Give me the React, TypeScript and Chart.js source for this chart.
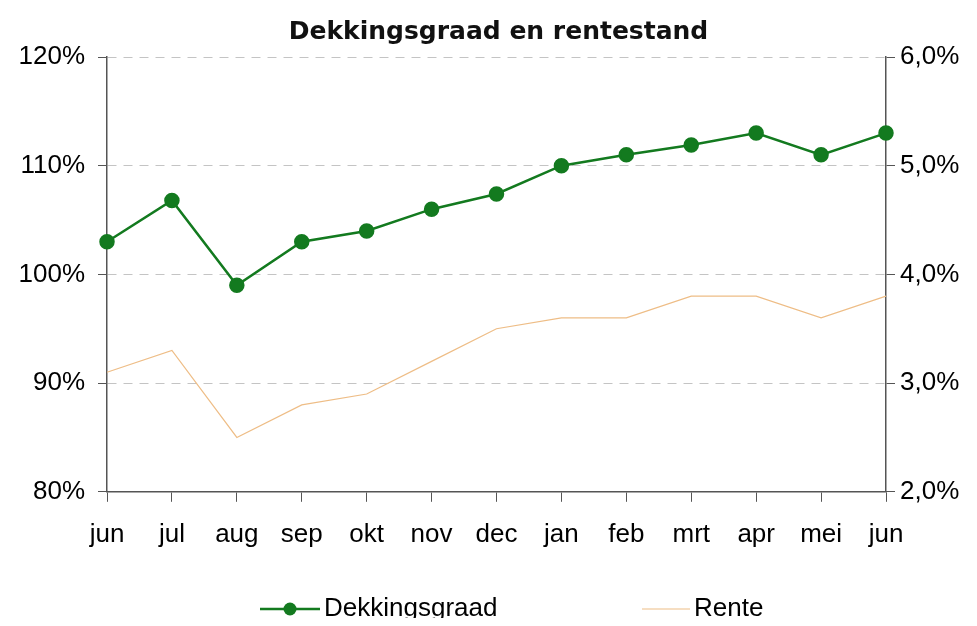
import React, { useEffect, useRef } from "react";
import { Chart, registerables } from "chart.js";

Chart.register(...registerables);

const months = ["jun", "jul", "aug", "sep", "okt", "nov", "dec", "jan", "feb", "mrt", "apr", "mei", "jun"];
const dekkingsgraad = [103, 106.8, 99, 103, 104, 106, 107.4, 110, 111, 111.9, 113, 111, 113];
const rente = [3.1, 3.3, 2.5, 2.8, 2.9, 3.2, 3.5, 3.6, 3.6, 3.8, 3.8, 3.6, 3.8];
const leftTicks = { min: 80, max: 120, step: 10 };
const rightTicks = { min: 2, max: 6, step: 1 };

const GREEN = "#137a1f";
const ORANGE = "#eebd86";
const AXIS = "#555555";
const FONT = "'Liberation Sans', Arial, sans-serif";

const legendPlugin = {
  id: "customLegend",
  afterDraw(chart: any) {
    const { ctx, chartArea } = chart;
    const y = chart.height - 9;
    const items = [
      { x: chartArea.left + 153, ds: chart.data.datasets[0] },
      { x: chartArea.left + 535, ds: chart.data.datasets[1] },
    ];
    ctx.save();
    items.forEach((it, i) => {
      const w = i === 0 ? 60 : 48;
      ctx.strokeStyle = it.ds.borderColor;
      ctx.lineWidth = it.ds.borderWidth;
      ctx.beginPath();
      ctx.moveTo(it.x, y);
      ctx.lineTo(it.x + w, y);
      ctx.stroke();
      if (it.ds.pointRadius > 0) {
        ctx.fillStyle = it.ds.pointBackgroundColor;
        ctx.beginPath();
        ctx.arc(it.x + w / 2, y, it.ds.pointRadius, 0, Math.PI * 2);
        ctx.fill();
      }
      ctx.fillStyle = "#000";
      ctx.font = `26px ${FONT}`;
      ctx.textBaseline = "middle";
      ctx.textAlign = "left";
      ctx.fillText(it.ds.label, it.x + w + 4, y);
    });
    ctx.restore();
  },
};

export default function App() {
  const ref = useRef<HTMLCanvasElement>(null);
  useEffect(() => {
    if (!ref.current) return;
    const chart = new Chart(ref.current, {
      type: "line",
      data: {
        labels: months,
        datasets: [
          {
            label: "Dekkingsgraad",
            data: dekkingsgraad,
            yAxisID: "y",
            borderColor: GREEN,
            backgroundColor: GREEN,
            pointBackgroundColor: GREEN,
            pointBorderColor: GREEN,
            borderWidth: 2.5,
            pointRadius: 6.5,
            tension: 0,
          },
          {
            label: "Rente",
            data: rente,
            yAxisID: "y1",
            borderColor: ORANGE,
            backgroundColor: ORANGE,
            borderWidth: 1.2,
            pointRadius: 0,
            tension: 0,
          },
        ],
      },
      options: {
        responsive: false,
        animation: false,
        layout: { padding: { left: 0, right: 0, top: 0, bottom: 51 } },
        plugins: {
          legend: { display: false },
          tooltip: { enabled: false },
          title: {
            display: true,
            text: "Dekkingsgraad en rentestand",
            color: "#111",
            font: { family: "'DejaVu Sans', Verdana, sans-serif", size: 25, weight: "bold" },
            padding: { top: 9, bottom: 10 },
          },
        },
        scales: {
          x: {
            offset: false,
            grid: {
              display: true,
              drawOnChartArea: false,
              drawTicks: true,
              tickLength: 10,
              tickColor: AXIS,
              offset: false,
            },
            border: { display: true, color: AXIS, width: 1.5 },
            ticks: { color: "#000", font: { family: FONT, size: 26 }, padding: 17, maxRotation: 0, autoSkip: false },
          },
          y: {
            position: "left",
            min: leftTicks.min,
            max: leftTicks.max,
            afterFit: (s: any) => { s.width = 99; },
            grid: {
              color: (c: any) => (c.tick && c.tick.value === leftTicks.min ? "rgba(0,0,0,0)" : "#c4c4c4"),
              tickColor: AXIS,
              tickLength: 9,
              lineWidth: 1,
            },
            border: { display: true, color: AXIS, width: 1.5, dash: [9, 7] },
            ticks: {
              stepSize: leftTicks.step,
              color: "#000",
              font: { family: FONT, size: 26 },
              padding: 13,
              callback: (v: any) => `${v}%`,
            },
          },
          y1: {
            position: "right",
            min: rightTicks.min,
            max: rightTicks.max,
            afterFit: (s: any) => { s.width = 103; },
            grid: { drawOnChartArea: false, tickColor: AXIS, tickLength: 9 },
            border: { display: true, color: AXIS, width: 1.5 },
            ticks: {
              stepSize: rightTicks.step,
              color: "#000",
              font: { family: FONT, size: 26 },
              padding: 5,
              callback: (v: any) => `${Number(v).toFixed(1).replace(".", ",")}%`,
            },
          },
        },
      },
      plugins: [legendPlugin],
    });
    return () => chart.destroy();
  }, []);
  return (
    <div style={{ width: 961, height: 610, overflow: "hidden" }}>
      <canvas ref={ref} width={981} height={610} />
    </div>
  );
}
